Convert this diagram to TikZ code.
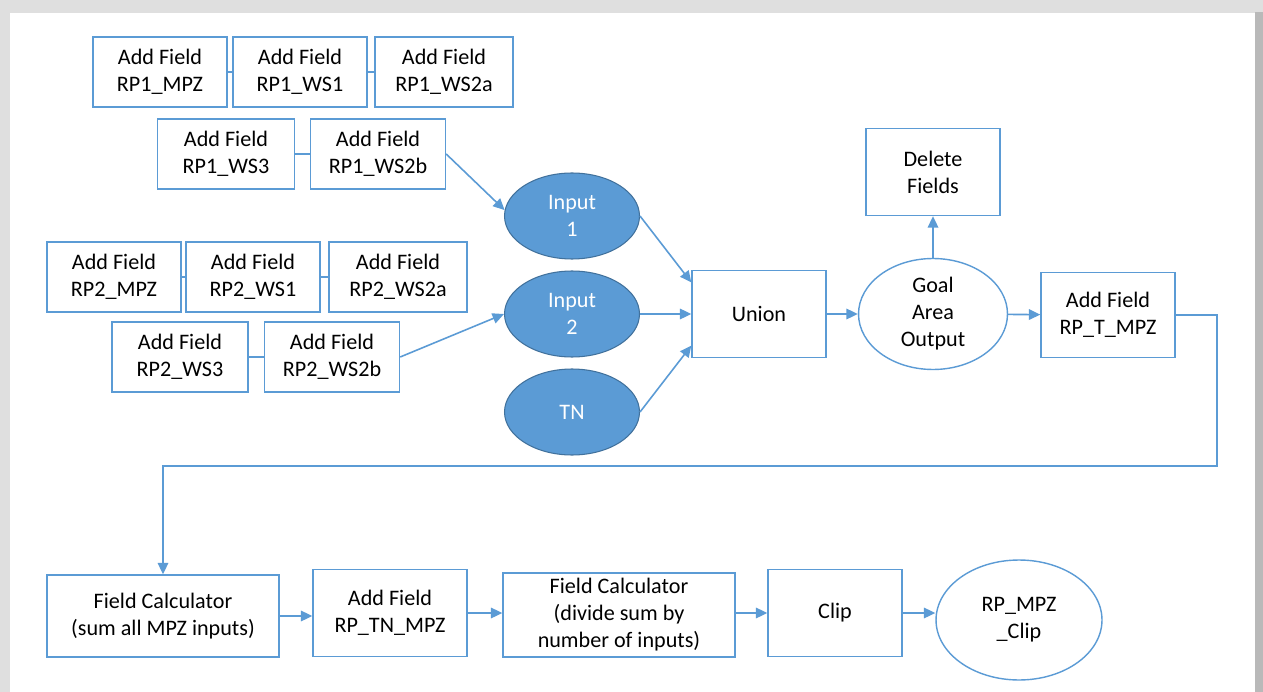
\documentclass[tikz,border=0pt]{standalone}
\usepackage{fontspec}
\setmainfont{Carlito}
\usepackage{xcolor}
\usetikzlibrary{positioning, arrows.meta, shapes.geometric}

\definecolor{lineblue}{HTML}{5B9BD5}
\definecolor{fillblue}{HTML}{5B9BD5}
\definecolor{edgeblue}{HTML}{41719C}

\begin{document}
\begin{tikzpicture}[x=0.02cm, y=-0.02cm,
  every node/.style={font=\fontsize{12.6}{15.4}\selectfont, align=center},
  box/.style={draw=lineblue, line width=0.8pt, rectangle, minimum width=2.68cm, minimum height=1.4cm, inner sep=1pt},
  inbox/.style={ellipse, draw=edgeblue, fill=fillblue, line width=0.6pt, text=white, minimum width=2.7cm, minimum height=1.72cm, inner sep=0pt},
  outbox/.style={ellipse, draw=lineblue, line width=0.8pt, inner sep=0pt},
  arr/.style={-{Triangle[length=6.5pt,width=6pt]}, lineblue, line width=0.9pt},
  link/.style={lineblue, line width=0.8pt}]

  % page with shadow frame
  \useasboundingbox (0,0) rectangle (1263,692);
  \fill[gray!25] (0,0) rectangle (1263,692);
  \fill[gray!55] (1255,12) rectangle (1263,692);
  \fill[white] (10,13) rectangle (1255,692);

  % first input chain
  \node[box] (mpzA) at (160,72) {Add Field\\RP1\_MPZ};
  \node[box] (wsoneA) at (300,72) {Add Field\\RP1\_WS1};
  \node[box, minimum width=2.76cm] (wstwoaA) at (444,72) {Add Field\\RP1\_WS2a};
  \node[box, minimum width=2.74cm] (wsthreeA) at (226,154) {Add Field\\RP1\_WS3};
  \node[box, minimum width=2.7cm] (wstwobA) at (378,154) {Add Field\\RP1\_WS2b};

  % second input chain
  \node[box] (mpzB) at (114,277) {Add Field\\RP2\_MPZ};
  \node[box] (wsoneB) at (253,277) {Add Field\\RP2\_WS1};
  \node[box, minimum width=2.76cm] (wstwoaB) at (398,277) {Add Field\\RP2\_WS2a};
  \node[box, minimum width=2.72cm] (wsthreeB) at (180,357) {Add Field\\RP2\_WS3};
  \node[box, minimum width=2.7cm] (wstwobB) at (332,357) {Add Field\\RP2\_WS2b};

  % inputs
  \node[inbox] (inA) at (572,216) {Input\\1};
  \node[inbox] (inB) at (572,314) {Input\\2};
  \node[inbox] (tn) at (572,412) {TN};

  % union and output
  \node[box, minimum height=1.74cm] (union) at (759,314) {Union};
  \node[outbox, minimum width=2.98cm, minimum height=2.22cm] (goal) at (933,314) {Goal\\Area\\Output};
  \node[box, minimum height=1.74cm] (del) at (933,172) {Delete\\Fields};
  \node[box, minimum height=1.7cm] (rpt) at (1108,315) {Add Field\\RP\_T\_MPZ};

  % bottom row
  \node[box, minimum width=4.64cm, minimum height=1.64cm] (fcA) at (163,616) {Field Calculator\\(sum all MPZ inputs)};
  \node[box, minimum width=3.08cm, minimum height=1.74cm] (rptn) at (390,613) {Add Field\\RP\_TN\_MPZ};
  \node[box, minimum width=4.64cm, minimum height=1.68cm] (fcB) at (619,615) {Field Calculator\\(divide sum by\\number of inputs)};
  \node[box, minimum height=1.74cm] (clip) at (835,613) {Clip};
  \node[outbox, minimum width=3.32cm, minimum height=2.4cm] (final) at (1019,620) {RP\_MPZ\\\_Clip};

  \coordinate (loop) at (1217,466);

  % links inside chains
  \draw[link] (mpzA) -- (wsoneA);
  \draw[link] (wsoneA) -- (wstwoaA);
  \draw[link] (wsthreeA) -- (wstwobA);
  \draw[link] (mpzB) -- (wsoneB);
  \draw[link] (wsoneB) -- (wstwoaB);
  \draw[link] (wsthreeB) -- (wstwobB);

  % flow
  \draw[arr] (wstwobA.east) -- (inA.175);
  \draw[arr] (wstwobB.east) -- (inB.west);
  \draw[arr] (inA.east) -- (union.155);
  \draw[arr] (inB.east) -- (union.west);
  \draw[arr] (tn.east) -- (union.205);
  \draw[arr] (union) -- (goal);
  \draw[arr] (goal) -- (del);
  \draw[arr] (goal) -- (rpt);
  \draw[arr] (rpt.east) -| (loop) -| (fcA.north);
  \draw[arr] (fcA.east) -- (fcA.east -| rptn.west);
  \draw[arr] (rptn.east) -- (rptn.east -| fcB.west);
  \draw[arr] (fcB.east |- clip.east) -- (clip.west);
  \draw[arr] (clip.east) -- (final.west |- clip.east);
\end{tikzpicture}
\end{document}
